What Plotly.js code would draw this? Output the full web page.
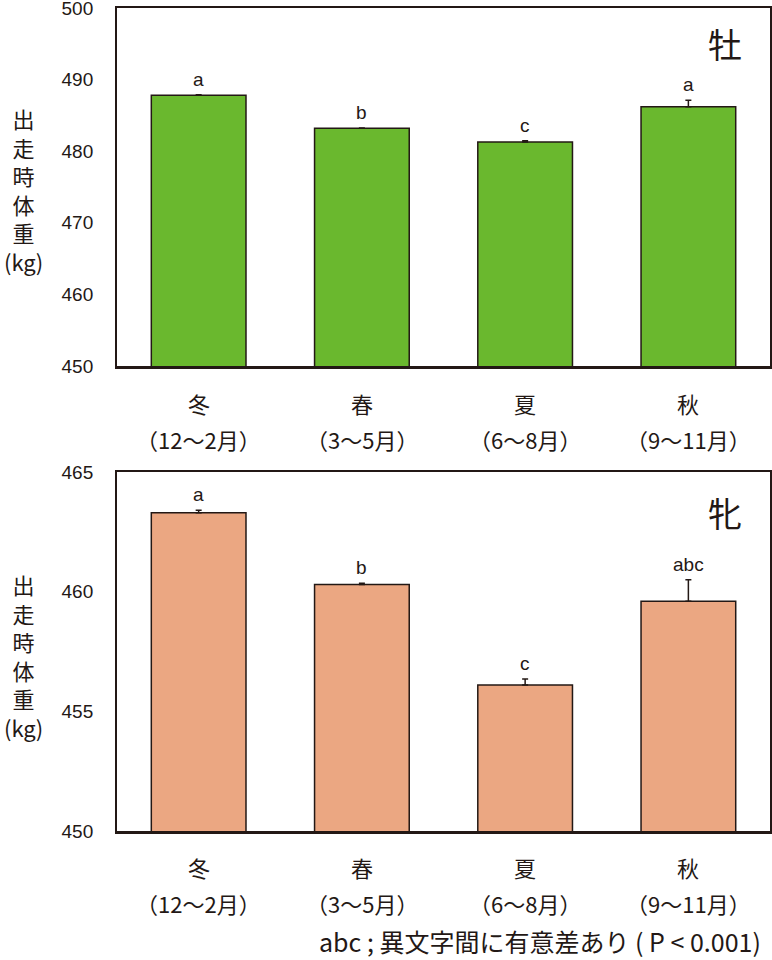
<!DOCTYPE html>
<html>
<head>
<meta charset="utf-8">
<script src="https://cdn.plot.ly/plotly-3.0.1.min.js"></script>
<style>
  html, body { margin: 0; padding: 0; background: #fff; }
  #chart { width: 772px; height: 960px; }
</style>
</head>
<body>
<div id="chart"></div>
<script>
// seasons and month ranges
var seasons = ['冬', '春', '夏', '秋'];
var months = ['（12～2月）', '（3～5月）', '（6～8月）', '（9～11月）'];

// 牡 (male) mean weight and error
var maleMean = [487.8, 483.2, 481.3, 486.2];
var maleErr = [0.1, 0.05, 0.15, 0.9];
var maleSig = ['a', 'b', 'c', 'a'];

// 牝 (female) mean weight and error
var femaleMean = [463.3, 460.3, 456.1, 459.6];
var femaleErr = [0.1, 0.05, 0.25, 0.9];
var femaleSig = ['a', 'b', 'c', 'abc'];

var maleTicks = [450, 460, 470, 480, 490, 500];
var femaleTicks = [450, 455, 460, 465];

var ink = '#231815';
var cjk = '"Noto Sans CJK JP", "Noto Sans", sans-serif';
var latin = '"Liberation Sans", Arial, sans-serif';

function barTrace(vals, errs, color, xa, ya) {
    return {
        type: 'bar',
        x: seasons,
        y: vals,
        xaxis: xa,
        yaxis: ya,
        width: 0.58,
        marker: { color: color, line: { color: ink, width: 1.5 } },
        error_y: { type: 'data', array: errs, visible: true, symmetric: false,
                   arrayminus: errs.map(function(){ return 0; }),
                   color: ink, thickness: 1.5, width: 3 },
        hoverinfo: 'skip',
        showlegend: false
    };
}

var data = [
    barTrace(maleMean, maleErr, '#6ab82e', 'x', 'y'),
    barTrace(femaleMean, femaleErr, '#eba782', 'x2', 'y2')
];

function yAxis(range, ticks, domain) {
    return {
        domain: domain,
        range: range,
        tickvals: ticks,
        ticks: '',
        ticklabelstandoff: 18,
        ticklabeloverflow: 'allow',
        showgrid: false,
        zeroline: false,
        showline: true,
        mirror: true,
        linecolor: ink,
        linewidth: 2,
        tickfont: { family: latin, size: 19, color: ink },
        fixedrange: true
    };
}

function xAxis(anchor) {
    return {
        domain: [0.1516, 0.9974],
        anchor: anchor,
        showticklabels: false,
        ticks: '',
        showgrid: false,
        zeroline: false,
        showline: true,
        mirror: true,
        linecolor: ink,
        linewidth: 2.5,
        fixedrange: true
    };
}

var annotations = [];

function addPanel(vals, errs, sig, xref, yref, tag, titleY, monthsY) {
    seasons.forEach(function(s, i) {
        annotations.push({
            x: s, y: vals[i] + errs[i], xref: xref, yref: yref,
            text: sig[i], showarrow: false, yanchor: 'bottom', yshift: 3,
            font: { family: latin, size: 19, color: ink }
        });
        annotations.push({
            x: s, y: monthsY, xref: xref, yref: 'paper',
            text: s, showarrow: false, yanchor: 'middle',
            font: { family: cjk, size: 22, color: ink }
        });
        annotations.push({
            x: s, y: monthsY - 36 / 960, xref: xref, yref: 'paper',
            text: months[i], showarrow: false, yanchor: 'middle',
            font: { family: cjk, size: 22, color: ink }
        });
    });
    annotations.push({
        x: 725 / 772, y: tag, xref: 'paper', yref: 'paper',
        text: xref === 'x' ? '牡' : '牝', showarrow: false,
        xanchor: 'center', yanchor: 'middle',
        font: { family: cjk, size: 34, color: ink }
    });
    annotations.push({
        x: 23 / 772, y: titleY, xref: 'paper', yref: 'paper',
        text: '出<br>走<br>時<br>体<br>重<br>(kg)', showarrow: false,
        xanchor: 'center', yanchor: 'middle',
        font: { family: cjk, size: 22, color: ink }
    });
}

addPanel(maleMean, maleErr, maleSig, 'x', 'y', 1 - 44 / 960, 1 - 190 / 960, 1 - 403 / 960);
addPanel(femaleMean, femaleErr, femaleSig, 'x2', 'y2', 1 - 512 / 960, 1 - 655 / 960, 1 - 867 / 960);

annotations.push({
    x: 762 / 772, y: 0, xref: 'paper', yref: 'paper',
    text: 'abc ; 異文字間に有意差あり ( P < 0.001)', showarrow: false,
    xanchor: 'right', yanchor: 'bottom', borderpad: 0,
    font: { family: cjk, size: 25, color: ink }
});

var layout = {
    width: 772,
    height: 960,
    margin: { l: 0, r: 0, t: 0, b: 0 },
    paper_bgcolor: '#fff',
    plot_bgcolor: '#fff',
    bargap: 0.42,
    xaxis: xAxis('y'),
    yaxis: yAxis([450, 500], maleTicks, [1 - 366 / 960, 1 - 8 / 960]),
    xaxis2: xAxis('y2'),
    yaxis2: yAxis([450, 465], femaleTicks, [1 - 831 / 960, 1 - 472 / 960]),
    annotations: annotations
};

Plotly.newPlot('chart', data, layout, { displayModeBar: false, staticPlot: true });
</script>
</body>
</html>
